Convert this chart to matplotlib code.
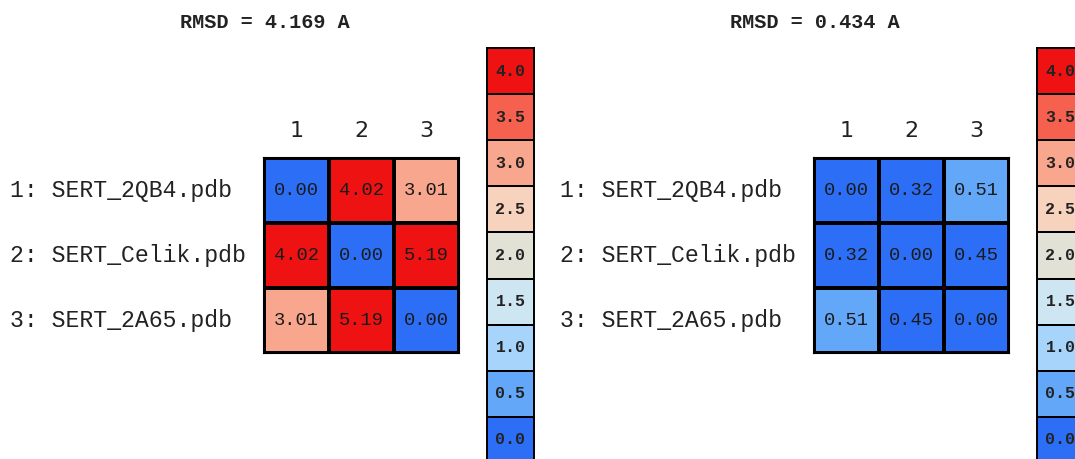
import numpy as np
import matplotlib
matplotlib.use("Agg")
import matplotlib.pyplot as plt
from matplotlib.colors import ListedColormap, BoundaryNorm
from matplotlib.transforms import blended_transform_factory

# Structures compared and pairwise RMSD matrices (Angstrom)
structures = ["SERT_2QB4.pdb", "SERT_Celik.pdb", "SERT_2A65.pdb"]
column_labels = ["1", "2", "3"]
rmsd_before = [[0.00, 4.02, 3.01],
               [4.02, 0.00, 5.19],
               [3.01, 5.19, 0.00]]
rmsd_after = [[0.00, 0.32, 0.51],
              [0.32, 0.00, 0.45],
              [0.51, 0.45, 0.00]]
overall_rmsd = ["4.169", "0.434"]

# Discrete colour scale: one colour per 0.5 A step, everything >= 4.0 is red
scale_levels = [0.0, 0.5, 1.0, 1.5, 2.0, 2.5, 3.0, 3.5, 4.0]
scale_colors = ["#2c6ef6", "#62a7f8", "#a7d4fb", "#cee6f1", "#e2e1d6",
                "#f7d2bd", "#f8a68d", "#f6604f", "#ee1212"]

cmap = ListedColormap(scale_colors)
norm = BoundaryNorm(scale_levels + [1e6], ncolors=len(scale_colors))

MONO = "Liberation Mono"
W, H = 1075, 459
fig = plt.figure(figsize=(W / 100, H / 100), dpi=100)


def px_rect(x0, y0, x1, y1):
    return [x0 / W, 1 - y1 / H, (x1 - x0) / W, (y1 - y0) / H]


def draw_panel(offset, matrix, total):
    mat = np.array(matrix)
    n = mat.shape[0]
    ax = fig.add_axes(px_rect(264 + offset, 158, 459 + offset, 353))
    ax.pcolormesh(np.arange(n + 1) - 0.5, np.arange(n + 1) - 0.5, mat,
                  cmap=cmap, norm=norm, edgecolors="black", linewidth=1.5)
    ax.set_xlim(-0.5, n - 0.5)
    ax.set_ylim(n - 0.5, -0.5)
    for i in range(n):
        for j in range(n):
            ax.text(j, i, f"{mat[i, j]:.2f}", ha="center", va="center",
                    family=MONO, fontsize=13.5, color="#1a1a1a")
    for s in ax.spines.values():
        s.set_linewidth(1.5)
    ax.xaxis.tick_top()
    ax.set_xticks(range(n))
    ax.set_xticklabels(column_labels, fontsize=16, family="DejaVu Sans",
                       color="#222222")
    ax.tick_params(axis="x", length=0, pad=12)
    ax.set_yticks([])

    tr = blended_transform_factory(fig.transFigure, ax.transData)
    for i, name in enumerate(structures):
        ax.text((10 + offset) / W, i, f"{i + 1}: {name}", transform=tr,
                ha="left", va="center", family=MONO, fontsize=16.7,
                color="#222222")

    fig.text((265 + offset) / W, 1 - 22 / H, f"RMSD = {total} A",
             ha="center", va="center", family=MONO, fontsize=14.5,
             fontweight="bold", color="#222222")

    # Discrete colour key
    cax = fig.add_axes(px_rect(487 + offset, 48, 534 + offset, 463))
    levels = np.array(scale_levels)[::-1].reshape(-1, 1)
    m = len(scale_levels)
    cax.pcolormesh([-0.5, 0.5], np.arange(m + 1) - 0.5, levels,
                   cmap=cmap, norm=norm, edgecolors="black", linewidth=1.4)
    cax.set_xlim(-0.5, 0.5)
    cax.set_ylim(m - 0.5, -0.5)
    for k, v in enumerate(levels[:, 0]):
        cax.text(0, k, f"{v:.1f}", ha="center", va="center", family=MONO,
                 fontsize=12, fontweight="bold", color="#222222")
    cax.set_xticks([])
    cax.set_yticks([])
    for s in cax.spines.values():
        s.set_linewidth(1.4)


draw_panel(0, rmsd_before, overall_rmsd[0])
draw_panel(550, rmsd_after, overall_rmsd[1])

fig.savefig("out.png", dpi=100, facecolor="white")
